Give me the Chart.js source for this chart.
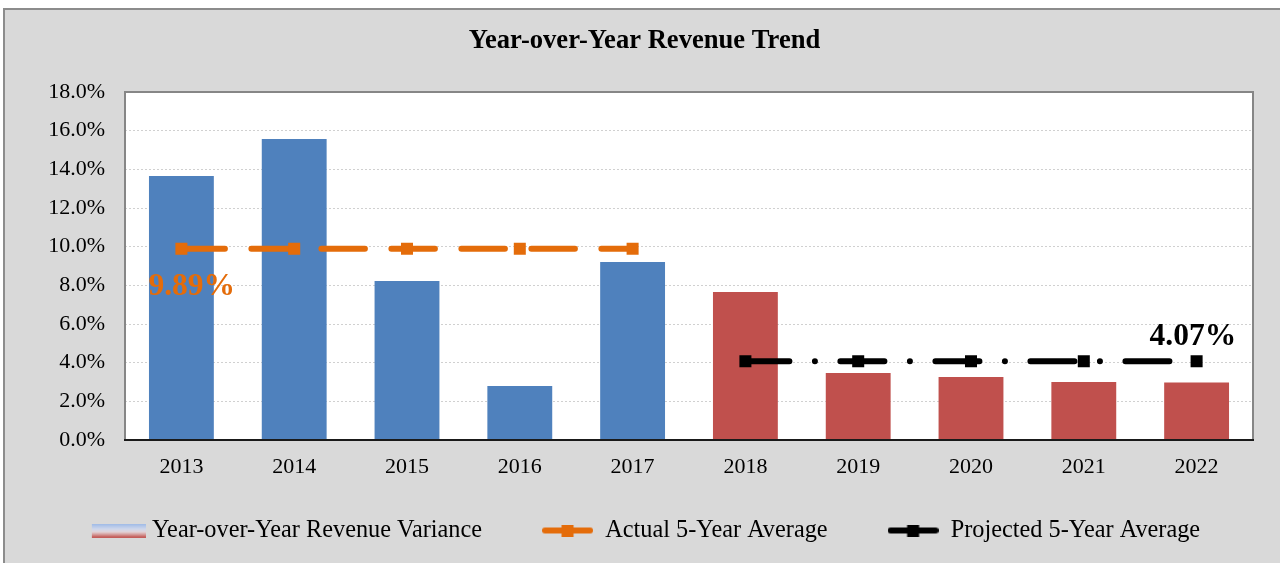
<!DOCTYPE html>
<html>
<head>
<meta charset="utf-8">
<script src="https://cdn.jsdelivr.net/npm/chart.js@4.4.1/dist/chart.umd.min.js"></script>
<style>
html,body{margin:0;padding:0;background:#fff;}
canvas{display:block;}
</style>
</head>
<body>
<canvas id="c" width="1280" height="563"></canvas>
<script>
// ---- data ----
const years = ['2013','2014','2015','2016','2017','2018','2019','2020','2021','2022'];
const variance = [13.66, 15.57, 8.22, 2.79, 9.21, 7.66, 3.47, 3.26, 3.00, 2.98];
const actualAvg = [9.89, 9.89, 9.89, 9.89, 9.89, null, null, null, null, null];
const projectedAvg = [null, null, null, null, null, 4.07, 4.07, 4.07, 4.07, 4.07];
const seriesNames = ['Year-over-Year Revenue Variance', 'Actual 5-Year Average', 'Projected 5-Year Average'];
const titleText = 'Year-over-Year Revenue Trend';
const yMin = 0, yMax = 18, yStep = 2;

// ---- styles ----
const FONT = "'Liberation Serif', 'Times New Roman', serif";
const BLUE = '#4f81bd', RED = '#c0504d', ORANGE = '#e46c0a', BLACK = '#000000';
const LW = 6;

function iconCanvas(kind) {
  const c = document.createElement('canvas');
  if (kind === 'bar') {
    c.width = 63; c.height = 14;
    const g = c.getContext('2d');
    const gr = g.createLinearGradient(0, 0, 0, 14);
    gr.addColorStop(0, '#9bb8e6');
    gr.addColorStop(0.4, '#cfd8ec');
    gr.addColorStop(0.6, '#e2d4d8');
    gr.addColorStop(0.8, '#d49896');
    gr.addColorStop(1, '#c0504d');
    g.fillStyle = gr;
    g.fillRect(9, 0, 54, 14);
  } else {
    const col = kind === 'actual' ? ORANGE : BLACK;
    c.width = 51; c.height = 12;
    const g = c.getContext('2d');
    g.strokeStyle = col; g.lineWidth = 6; g.lineCap = 'round';
    g.beginPath(); g.moveTo(3, 6); g.lineTo(48, 6); g.stroke();
    g.fillStyle = col;
    g.fillRect(19.5, 0, 12, 12);
  }
  return c;
}
const icons = [iconCanvas('bar'), iconCanvas('actual'), iconCanvas('projected')];

const framePlugin = {
  id: 'frame',
  beforeDraw(chart) {
    const {ctx, chartArea: a} = chart;
    ctx.save();
    ctx.fillStyle = '#ffffff';
    ctx.fillRect(0, 0, chart.width, chart.height);
    ctx.fillStyle = '#d9d9d9';
    ctx.fillRect(4, 9, chart.width + 20, chart.height + 20);
    ctx.strokeStyle = '#8c8c8c';
    ctx.lineWidth = 2;
    ctx.strokeRect(4, 9, chart.width + 20, chart.height + 20);
    ctx.fillStyle = '#ffffff';
    ctx.fillRect(a.left, a.top, a.right - a.left, a.bottom - a.top);
    ctx.restore();
  },
  afterDatasetsDraw(chart) {
    const {ctx, chartArea: a, scales} = chart;
    ctx.save();
    ctx.strokeStyle = '#868686';
    ctx.lineWidth = 2;
    ctx.beginPath();
    ctx.moveTo(a.left, a.bottom); ctx.lineTo(a.left, a.top); ctx.lineTo(a.right, a.top); ctx.lineTo(a.right, a.bottom);
    ctx.stroke();
    ctx.strokeStyle = '#1a1a1a';
    ctx.beginPath(); ctx.moveTo(a.left - 1, a.bottom); ctx.lineTo(a.right + 1, a.bottom); ctx.stroke();

    // value labels for the averages
    const x = scales.x, y = scales.y;
    ctx.font = 'bold 31.5px ' + FONT;
    ctx.textAlign = 'left';
    ctx.textBaseline = 'alphabetic';
    const ia = actualAvg.findIndex(v => v !== null);
    ctx.fillStyle = ORANGE;
    ctx.fillText(actualAvg[ia].toFixed(2) + '%', x.getPixelForValue(ia) - 33, y.getPixelForValue(actualAvg[ia]) + 46);
    let ip = -1; projectedAvg.forEach((v, i) => { if (v !== null) ip = i; });
    ctx.fillStyle = BLACK;
    ctx.fillText(projectedAvg[ip].toFixed(2) + '%', x.getPixelForValue(ip) - 47, y.getPixelForValue(projectedAvg[ip]) - 16.5);
    ctx.restore();
  }
};

new Chart(document.getElementById('c'), {
  data: {
    labels: years,
    datasets: [
      {
        type: 'bar', label: seriesNames[0], data: variance, order: 3,
        backgroundColor: (c) => (c.dataIndex < 5 ? BLUE : RED),
        barPercentage: 0.575, categoryPercentage: 1.0, borderWidth: 0
      },
      {
        type: 'line', label: seriesNames[1], data: actualAvg, order: 2,
        borderColor: ORANGE, backgroundColor: ORANGE, borderWidth: LW,
        borderDash: [43.5, 26.5], borderCapStyle: 'round', borderJoinStyle: 'round',
        pointStyle: 'rect', pointRadius: 8.5, pointBorderWidth: 0, pointBackgroundColor: ORANGE,
        tension: 0, fill: false, spanGaps: false
      },
      {
        type: 'line', label: seriesNames[2], data: projectedAvg, order: 1,
        borderColor: BLACK, backgroundColor: BLACK, borderWidth: LW,
        borderDash: [44, 25.5, 0.01, 25.5], borderCapStyle: 'round', borderJoinStyle: 'round',
        pointStyle: 'rect', pointRadius: 8.5, pointBorderWidth: 0, pointBackgroundColor: BLACK,
        tension: 0, fill: false, spanGaps: false
      }
    ]
  },
  options: {
    responsive: false,
    animation: false,
    devicePixelRatio: 1,
    layout: { padding: { left: 9, right: 0, top: 0, bottom: 10.35 } },
    scales: {
      x: {
        offset: true,
        grid: { display: false, drawTicks: false },
        border: { display: false },
        ticks: { color: '#000', font: { family: FONT, size: 22 }, padding: 14, maxRotation: 0 },
        afterFit: (s) => {
          s.height = 18.35;
          // labels sit below this slim box; do not clip them to it
          s._computeLabelArea = () => undefined;
        }
      },
      y: {
        position: 'left',
        min: yMin, max: yMax,
        grid: { color: '#d0d0d0', lineWidth: 1, drawTicks: false },
        border: { display: false, dash: [2, 2] },
        ticks: {
          stepSize: yStep, color: '#000', padding: 20,
          font: { family: FONT, size: 22 },
          callback: (v) => Number(v).toFixed(1) + '%'
        },
        afterFit: (s) => { s.width = 116; }
      },
      y2: {
        position: 'right',
        display: true,
        grid: { display: false, drawTicks: false },
        border: { display: false },
        ticks: { display: false },
        afterFit: (s) => { s.width = 27; }
      }
    },
    plugins: {
      tooltip: { enabled: false },
      title: {
        display: true, text: titleText, color: '#000',
        font: { family: FONT, size: 26.6, weight: 'bold', lineHeight: 1.2 },
        padding: { top: 25, bottom: 35.1 }
      },
      legend: {
        display: true, position: 'bottom', align: 'center',
        labels: {
          color: '#000',
          font: { family: FONT, size: 24.3 },
          usePointStyle: true, pointStyleWidth: 51, padding: 60,
          generateLabels: (chart) => seriesNames.map((n, i) => ({
            text: n, pointStyle: icons[i], datasetIndex: i,
            fillStyle: 'transparent', strokeStyle: 'transparent', lineWidth: 0,
            hidden: false, fontColor: '#000'
          }))
        }
      }
    }
  },
  plugins: [framePlugin]
});
</script>
</body>
</html>
